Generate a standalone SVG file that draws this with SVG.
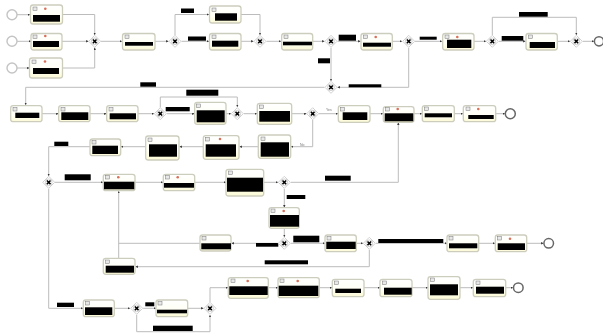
<svg xmlns="http://www.w3.org/2000/svg" width="603" height="333" viewBox="0 0 603 333">
<style>
.t{fill:url(#tg);stroke:#cdcdbe;stroke-width:1.3}
.i{fill:#e8e8e8;stroke:#777;stroke-width:.5}
.b{fill:#000}
.d{fill:#d8705a}
.s{fill:#fff;stroke:#c4c4c4;stroke-width:1.4}
.e{fill:#fff;stroke:#666;stroke-width:1.5}
.c path{fill:none;stroke:#bcbcbc;stroke-width:1;marker-end:url(#a)}
.c path.n{marker-end:none}
.y{font:3.5px "Liberation Sans",sans-serif;fill:#777}
</style>
<defs>
<linearGradient id="tg" x1="0" y1="0" x2="0" y2="1"><stop offset="0" stop-color="#fff"/><stop offset=".6" stop-color="#fffff4"/><stop offset="1" stop-color="#fbf9d4"/></linearGradient>
<marker id="a" markerWidth="3" markerHeight="3" refX="2.4" refY="1.2" orient="auto" markerUnits="userSpaceOnUse"><path d="M0 0L2.4 1.2L0 2.4z" fill="#333"/></marker>
<filter id="f" x="0" y="0" width="100%" height="100%"><feGaussianBlur stdDeviation=".45"/></filter>
<g id="gw"><path d="M0-6L6 0L0 6L-6 0z" fill="#fff" stroke="#d2d2d2"/><circle r="3.4" fill="#fff" stroke="#b4b4b4" stroke-width=".6"/><path d="M-1.8-1.8L1.8 1.8M1.8-1.8L-1.8 1.8" stroke="#000" stroke-width="1.5"/></g>
</defs>
<g filter="url(#f)">
<rect width="603" height="333" fill="#fff"/>
<g id="connectors" class="c">
<path d="M17 14.7H30"/><path d="M17 41.3H31"/><path d="M17 68H29.5"/>
<path d="M62.5 14.5H94.7V35"/><path d="M62 41.3H88.5"/><path d="M62.5 68H94.7V47.5"/>
<path d="M101 41.3H122"/><path d="M155 41.3H168.5"/>
<path d="M175 35V14.5H209"/><path d="M181.5 41.3H209"/>
<path d="M241 14.5H260V35"/><path d="M241 41.3H253.5"/><path d="M266.5 41.3H281"/>
<path d="M312.7 41.3H324.5"/><path d="M337.5 41.3H360.5"/><path d="M392.3 41.3H402"/>
<path d="M415 41.3H442"/><path d="M474 41.3H486"/><path d="M498.8 41.3H525.5"/>
<path d="M557.3 41.3H570"/><path d="M582.8 41.3H594"/>
<path d="M492.3 35V17.3H576.3V35"/>
<path d="M331 47.8V81"/><path d="M408.7 47.8V87.3H337.5"/>
<path d="M324.5 87.3H25.7V105"/>
<path d="M42 113.7H58.5"/><path d="M90 113.7H106.5"/><path d="M138 113.7H154"/>
<path d="M166.8 113.7H194.5"/><path d="M160.3 107.5V97H237.3V107"/>
<path d="M226 113.7H231"/><path d="M243.8 113.7H257"/><path d="M291.7 113.7H306.5"/>
<path d="M319 113.7H338"/><path d="M370 113.7H383"/><path d="M414 113.7H422"/>
<path d="M454.3 113.7H463"/><path d="M495.7 113.7H505"/>
<path d="M312.7 120V146.7H291"/>
<path d="M258.3 146.7H239.5"/><path d="M203.3 146.7H179.5"/><path d="M145.7 146.7H121"/>
<path d="M90 146.7H48.7V176"/>
<path d="M55 182.3H103"/><path d="M135 182.3H163"/><path d="M194.7 182.3H226"/><path d="M263.7 182.3H278"/>
<path d="M290.8 182.3H398.3V122.5"/>
<path d="M284.3 188.8V207.5"/><path d="M284.3 228.3V237"/>
<path d="M290.8 243.3H325"/><path d="M278 243.3H231.5"/><path d="M356.3 243.3H363"/>
<path d="M375.8 243.3H447"/><path d="M478.7 243.3H495"/><path d="M526.7 243.3H543.5"/>
<path d="M369.3 249.8V266.7H135.5"/>
<path class="n" d="M200 243.3H118.7"/><path d="M118.7 258.3V191"/>
<path d="M48.7 188.8V308.3H83"/>
<path d="M114.3 308.3H130"/><path d="M143.2 308.3H156"/><path d="M187.7 308.3H203.5"/>
<path d="M136.7 314.8V331.7H210V315"/>
<path d="M210 302V287.7H228"/>
<path d="M268.3 287.7H278"/><path d="M319.3 287.7H332"/><path d="M364 287.7H380"/>
<path d="M412 287.7H428"/><path d="M460 287.7H473"/><path d="M505.7 287.7H513"/>
</g>
<g id="labels" class="b">
<rect x="181" y="8.5" width="13" height="4.5"/><rect x="188" y="36.5" width="18" height="4.2"/>
<rect x="338.7" y="34.7" width="17.3" height="6"/><rect x="419.7" y="36.7" width="17" height="3"/>
<rect x="501.7" y="36" width="21.6" height="4.7"/><rect x="519" y="12" width="28.7" height="4.7"/>
<rect x="318" y="58.3" width="12" height="5"/><rect x="348.7" y="84.3" width="32.6" height="3"/>
<rect x="140.3" y="82.3" width="15.7" height="4.4"/><rect x="165.7" y="107" width="24" height="4.3"/>
<rect x="186.3" y="89.7" width="32" height="6"/><rect x="54.3" y="141.7" width="14" height="4.3"/>
<rect x="64.7" y="174.3" width="26" height="6"/><rect x="325" y="175.7" width="25.7" height="5"/>
<rect x="286.7" y="195" width="18.6" height="4"/><rect x="293.3" y="235.7" width="26" height="6.6"/>
<rect x="378.3" y="239" width="65" height="4"/><rect x="264.7" y="260.3" width="43.3" height="4"/>
<rect x="256" y="243" width="22.3" height="3.7"/><rect x="57" y="302.7" width="17" height="4.3"/>
<rect x="145.3" y="302.3" width="9" height="4"/><rect x="153" y="325.7" width="39.7" height="5.3"/>
</g>
<text class="y" x="326" y="111">Yes</text>
<text class="y" x="300" y="146">No</text>
<g id="s1"><circle class="s" cx="12" cy="14.7" r="5"/></g>
<g id="s2"><circle class="s" cx="12" cy="41.3" r="5"/></g>
<g id="s3"><circle class="s" cx="12" cy="68" r="5"/></g>
<g id="e1"><circle class="e" cx="599" cy="41.3" r="4.6"/></g>
<g id="e2"><circle class="e" cx="510.3" cy="113.7" r="5"/></g>
<g id="e3"><circle class="e" cx="548.7" cy="243.3" r="4.8"/></g>
<g id="e4"><circle class="e" cx="518.3" cy="287.7" r="4.8"/></g>
<g id="g1"><use href="#gw" x="94.7" y="41.3"/></g>
<g id="g2"><use href="#gw" x="175" y="41.3"/></g>
<g id="g3"><use href="#gw" x="260" y="41.3"/></g>
<g id="g4"><use href="#gw" x="331" y="41.3"/></g>
<g id="g5"><use href="#gw" x="408.7" y="41.3"/></g>
<g id="g6"><use href="#gw" x="492.3" y="41.3"/></g>
<g id="g7"><use href="#gw" x="576.3" y="41.3"/></g>
<g id="g8"><use href="#gw" x="331" y="87.3"/></g>
<g id="g9"><use href="#gw" x="160.3" y="113.7"/></g>
<g id="g10"><use href="#gw" x="237.3" y="113.7"/></g>
<g id="g11"><use href="#gw" x="312.7" y="113.7"/></g>
<g id="g12"><use href="#gw" x="48.7" y="182.3"/></g>
<g id="g13"><use href="#gw" x="284.3" y="182.3"/></g>
<g id="g14"><use href="#gw" x="284.3" y="243.3"/></g>
<g id="g15"><use href="#gw" x="369.3" y="243.3"/></g>
<g id="g16"><use href="#gw" x="136.7" y="308.3"/></g>
<g id="g17"><use href="#gw" x="210" y="308.3"/></g>
<g id="t1"><rect class="t" x="30.5" y="5" width="32" height="19" rx="2.5"/><rect class="i" x="33" y="7" width="4" height="3.5"/><circle class="d" cx="45.3" cy="8.7" r="1.3"/><rect class="b" x="33" y="15" width="27" height="6.7"/></g>
<g id="t2"><rect class="t" x="31" y="33.5" width="31" height="16.5" rx="2.5"/><rect class="i" x="33" y="35" width="4" height="3.5"/><circle class="d" cx="45.3" cy="36" r="1.3"/><rect class="b" x="33" y="41" width="26" height="6"/></g>
<g id="t3"><rect class="t" x="29.5" y="58" width="33" height="20" rx="2.5"/><rect class="i" x="32" y="60" width="4" height="3.5"/><circle class="d" cx="45" cy="61.5" r="1.3"/><rect class="b" x="33" y="68" width="26" height="6"/></g>
<g id="t4"><rect class="t" x="122.5" y="33.5" width="32.5" height="16.5" rx="2.5"/><rect class="i" x="125" y="35" width="4" height="3.5"/><rect class="b" x="125" y="42" width="28" height="3.7"/></g>
<g id="t5"><rect class="t" x="209.5" y="6" width="31.5" height="17" rx="2.5"/><rect class="i" x="212" y="8" width="4" height="3.5"/><rect class="b" x="215" y="13.3" width="22" height="7.4"/></g>
<g id="t6"><rect class="t" x="209.5" y="33.5" width="31.5" height="16.5" rx="2.5"/><rect class="i" x="212" y="35" width="4" height="3.5"/><rect class="b" x="212" y="40.7" width="26.3" height="6"/></g>
<g id="t7"><rect class="t" x="281.7" y="33.5" width="31" height="16.5" rx="2.5"/><rect class="i" x="284" y="35" width="4" height="3.5"/><rect class="b" x="283" y="41.7" width="29" height="3.6"/></g>
<g id="t8"><rect class="t" x="361" y="33.5" width="31.3" height="16.5" rx="2.5"/><rect class="i" x="363.5" y="35" width="4" height="3.5"/><circle class="d" cx="375.7" cy="37" r="1.3"/><rect class="b" x="363" y="42.7" width="28" height="4"/></g>
<g id="t9"><rect class="t" x="442.7" y="33.5" width="31.3" height="16.5" rx="2.5"/><rect class="i" x="445" y="35" width="4" height="3.5"/><circle class="d" cx="457.3" cy="37" r="1.3"/><rect class="b" x="447" y="39.7" width="24.3" height="8.3"/></g>
<g id="t10"><rect class="t" x="526" y="33.5" width="31.3" height="16.5" rx="2.5"/><rect class="i" x="528.5" y="35" width="4" height="3.5"/><rect class="b" x="529.7" y="42" width="25.3" height="6"/></g>
<g id="t11"><rect class="t" x="10.7" y="105.7" width="31.3" height="16" rx="2.5"/><rect class="i" x="13" y="107.5" width="4" height="3.5"/><rect class="b" x="15.3" y="112.7" width="24" height="5.3"/></g>
<g id="t12"><rect class="t" x="58.7" y="105.7" width="31.3" height="16" rx="2.5"/><rect class="i" x="61" y="107.5" width="4" height="3.5"/><rect class="b" x="61.3" y="112.3" width="27" height="7.7"/></g>
<g id="t13"><rect class="t" x="106.7" y="105.7" width="31.3" height="16" rx="2.5"/><rect class="i" x="109" y="107.5" width="4" height="3.5"/><rect class="b" x="109.7" y="113.3" width="26.3" height="6"/></g>
<g id="t14"><rect class="t" x="194.7" y="102.3" width="31.3" height="22" rx="2.5"/><rect class="i" x="196.5" y="104" width="4" height="3.5"/><rect class="b" x="196.7" y="110.3" width="28" height="12"/></g>
<g id="t15"><rect class="t" x="257.3" y="103.3" width="34.4" height="21" rx="2.5"/><rect class="i" x="259.5" y="105" width="4" height="3.5"/><rect class="b" x="259.3" y="111" width="30.7" height="10.7"/></g>
<g id="t16"><rect class="t" x="338.3" y="105.7" width="31.7" height="16.6" rx="2.5"/><rect class="i" x="340.5" y="107.5" width="4" height="3.5"/><rect class="b" x="342.7" y="112.3" width="24.6" height="7.7"/></g>
<g id="t17"><rect class="t" x="383.3" y="106.7" width="30.7" height="15.6" rx="2.5"/><rect class="i" x="385.5" y="107.5" width="4" height="3.5"/><circle class="d" cx="397.7" cy="109" r="1.3"/><rect class="b" x="384.7" y="113.3" width="28.6" height="8"/></g>
<g id="t18"><rect class="t" x="422.3" y="105.7" width="32" height="16" rx="2.5"/><rect class="i" x="424.5" y="107" width="4" height="3.5"/><rect class="b" x="424.7" y="113.3" width="27.3" height="4"/></g>
<g id="t19"><rect class="t" x="463.3" y="105.7" width="32.4" height="16" rx="2.5"/><rect class="i" x="466" y="107" width="4" height="3.5"/><circle class="d" cx="478.3" cy="109" r="1.3"/><rect class="b" x="468.3" y="115" width="25.4" height="4"/></g>
<g id="t20"><rect class="t" x="258.3" y="135" width="32.4" height="23.3" rx="2.5"/><rect class="i" x="261" y="137" width="4" height="3.5"/><rect class="b" x="260.7" y="142.3" width="28.3" height="14.4"/></g>
<g id="t21"><rect class="t" x="203.3" y="135.7" width="35.7" height="23.6" rx="2.5"/><rect class="i" x="205.5" y="137.5" width="4" height="3.5"/><circle class="d" cx="220" cy="139" r="1.3"/><rect class="b" x="205.7" y="144.3" width="30.3" height="12.4"/></g>
<g id="t22"><rect class="t" x="145.7" y="136" width="33.3" height="24" rx="2.5"/><rect class="i" x="148" y="138" width="4" height="3.5"/><rect class="b" x="149" y="144.3" width="28" height="12.4"/></g>
<g id="t23"><rect class="t" x="90" y="139" width="30.7" height="16.7" rx="2.5"/><rect class="i" x="92" y="140.5" width="4" height="3.5"/><rect class="b" x="92.3" y="145.7" width="25.7" height="8.3"/></g>
<g id="t24"><rect class="t" x="103.3" y="174.3" width="31.7" height="16.4" rx="2.5"/><rect class="i" x="105.5" y="175.5" width="4" height="3.5"/><circle class="d" cx="118.3" cy="177.3" r="1.3"/><rect class="b" x="104" y="181.7" width="30.3" height="7.6"/></g>
<g id="t25"><rect class="t" x="163.3" y="174.3" width="31.4" height="16.4" rx="2.5"/><rect class="i" x="165.5" y="175.5" width="4" height="3.5"/><circle class="d" cx="177.7" cy="177.3" r="1.3"/><rect class="b" x="164" y="183" width="30" height="4.7"/></g>
<g id="t26"><rect class="t" x="226" y="169.3" width="37.7" height="26.7" rx="2.5"/><rect class="i" x="228.5" y="171" width="4" height="3.5"/><rect class="b" x="227" y="177.7" width="36" height="14"/></g>
<g id="t27"><rect class="t" x="269" y="207.7" width="30.3" height="20.6" rx="2.5"/><rect class="i" x="271" y="209" width="4" height="3.5"/><circle class="d" cx="283.7" cy="211" r="1.3"/><rect class="b" x="270" y="215" width="29" height="11.7"/></g>
<g id="t28"><rect class="t" x="325" y="235" width="31.3" height="16.7" rx="2.5"/><rect class="i" x="327" y="236.5" width="4" height="3.5"/><rect class="b" x="326.3" y="241.7" width="29.4" height="7.3"/></g>
<g id="t29"><rect class="t" x="447" y="235" width="31.7" height="16.7" rx="2.5"/><rect class="i" x="449" y="236.5" width="4" height="3.5"/><rect class="b" x="449" y="243.3" width="28.3" height="5"/></g>
<g id="t30"><rect class="t" x="495.3" y="235" width="31.4" height="16.7" rx="2.5"/><rect class="i" x="497.5" y="236.5" width="4" height="3.5"/><circle class="d" cx="510" cy="238.7" r="1.3"/><rect class="b" x="497.7" y="243.3" width="27.3" height="6.7"/></g>
<g id="t31"><rect class="t" x="200" y="235" width="31" height="16" rx="2.5"/><rect class="i" x="202" y="236.5" width="4" height="3.5"/><rect class="b" x="201.3" y="243.3" width="29.7" height="6"/></g>
<g id="t32"><rect class="t" x="103.3" y="258.3" width="31.7" height="16" rx="2.5"/><rect class="i" x="105.5" y="260" width="4" height="3.5"/><rect class="b" x="105.7" y="265.7" width="28.3" height="7"/></g>
<g id="t33"><rect class="t" x="83.3" y="300" width="31" height="16.7" rx="2.5"/><rect class="i" x="85.5" y="301.5" width="4" height="3.5"/><rect class="b" x="85" y="307.3" width="27.3" height="7.7"/></g>
<g id="t34"><rect class="t" x="156" y="300" width="31.7" height="16.7" rx="2.5"/><rect class="i" x="158" y="301.5" width="4" height="3.5"/><rect class="b" x="157" y="309.7" width="30" height="3.6"/></g>
<g id="t35"><rect class="t" x="228.3" y="277.7" width="40" height="20.6" rx="2.5"/><rect class="i" x="231" y="279" width="4" height="3.5"/><circle class="d" cx="247.7" cy="281" r="1.3"/><rect class="b" x="229.3" y="286.3" width="38.4" height="8.7"/></g>
<g id="t36"><rect class="t" x="278" y="277.7" width="41.3" height="20" rx="2.5"/><rect class="i" x="280" y="279" width="4" height="3.5"/><circle class="d" cx="297.7" cy="281" r="1.3"/><rect class="b" x="278.7" y="285.7" width="39.6" height="10.3"/></g>
<g id="t37"><rect class="t" x="332.3" y="279.3" width="31.7" height="17.4" rx="2.5"/><rect class="i" x="334.5" y="281" width="4" height="3.5"/><rect class="b" x="335.3" y="288.7" width="25.7" height="4.3"/></g>
<g id="t38"><rect class="t" x="380" y="279.3" width="32" height="17.4" rx="2.5"/><rect class="i" x="382.5" y="281" width="4" height="3.5"/><rect class="b" x="384" y="287.7" width="27.7" height="7"/></g>
<g id="t39"><rect class="t" x="428" y="276.7" width="32" height="22.6" rx="2.5"/><rect class="i" x="430.5" y="278" width="4" height="3.5"/><rect class="b" x="430" y="284.3" width="28" height="11"/></g>
<g id="t40"><rect class="t" x="473.3" y="279.3" width="32.4" height="17.4" rx="2.5"/><rect class="i" x="476" y="281" width="4" height="3.5"/><rect class="b" x="476" y="286.7" width="28" height="7"/></g>
</g>
</svg>
